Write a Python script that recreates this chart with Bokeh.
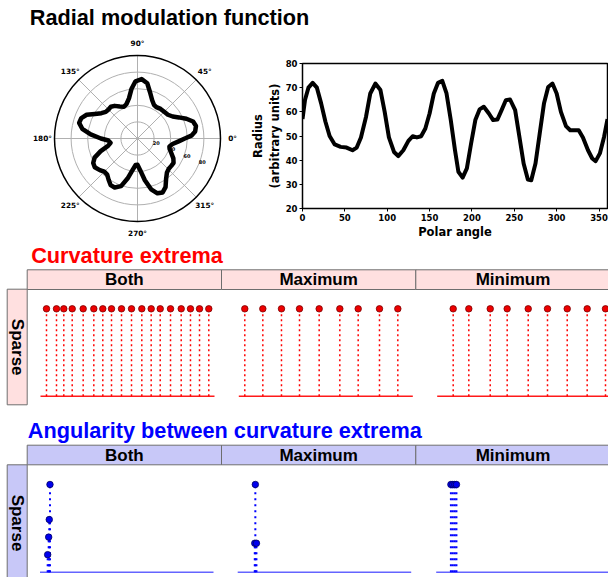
import numpy as np
from bokeh.plotting import figure
from bokeh.layouts import column, row
from bokeh.models import Range1d, FixedTicker
from bokeh.core.properties import value
from bokeh.embed import file_html
from bokeh.resources import INLINE

# ---------------- data ----------------
theta_deg = [0, 3, 7, 12, 17, 22, 27, 32, 38, 45, 52, 59, 64, 69, 75, 80, 86, 92, 97, 102,
             108, 113, 119, 125, 130, 135, 140, 145, 150, 155, 160, 165, 170, 175, 180, 184,
             189, 194, 199, 204, 209, 214, 220, 225, 230, 235, 240, 245, 251, 256, 261, 266,
             270, 275, 280, 285, 290, 295, 300, 305, 311, 316, 321, 326, 331, 337, 342, 346,
             351, 356, 360]
radius = [57.0, 65.0, 70.0, 72.0, 70.0, 63.5, 56.0, 50.0, 46.5, 45.5, 45.2, 44.1, 45.2, 49.4,
          58.0, 67.6, 71.7, 69.0, 60.0, 49.4, 43.4, 41.7, 44.1, 48.0, 49.9, 49.4, 49.9, 53.1,
          59.3, 67.6, 72.0, 72.8, 67.6, 56.6, 44.1, 35.2, 32.8, 36.6, 46.9, 56.6, 61.0, 62.1,
          59.3, 56.6, 56.8, 60.7, 64.8, 65.1, 60.7, 49.7, 38.6, 32.0, 31.7, 38.6, 51.0, 63.4,
          70.3, 71.7, 67.6, 60.0, 54.1, 52.4, 52.4, 52.4, 49.4, 44.1, 40.7, 39.6, 42.8, 49.7,
          57.0]
x_ticks = [0, 50, 100, 150, 200, 250, 300, 350]
y_ticks = [20, 30, 40, 50, 60, 70, 80]
polar_rings = [20, 40, 60, 80]
polar_rmax = 100
polar_angles = [0, 45, 90, 135, 180, 225, 270, 315]
polar_angle_labels = ["0°", "45°", "90°", "135°", "180°", "225°", "270°", "315°"]

facet_cols = ["Both", "Maximum", "Minimum"]
facet_row = "Sparse"

curv_both = [12.4, 33.1, 48.2, 65.6, 88.3, 110.3, 128.9, 146.9, 167.6, 188.3, 209.6, 229.0,
             247.7, 269.0, 291.1, 310.3, 329.0, 348.2]
curv_both_h = [1] * 18
curv_max = [12.4, 49.7, 88.3, 125.6, 166.3, 209.0, 247.0, 291.1, 329.0]
curv_max_h = [1] * 9
curv_min = [33.1, 65.4, 109.7, 144.8, 188.3, 228.2, 269.0, 310.3, 348.2]
curv_min_h = [1] * 9

ang_both = [20.7, 19.2, 18.0, 15.9]
ang_both_h = [1.0, 0.6, 0.4, 0.2]
ang_max = [36.6, 35.4, 38.9]
ang_max_h = [1.0, 0.33, 0.33]
ang_min = [30.5, 34.5, 38.5, 42.0]
ang_min_h = [1.0, 1.0, 1.0, 1.0]

# ---------------- helpers ----------------
BOLD_SANS = value("Liberation Sans")
MPL_FONT = value("DejaVu Sans")
PAGE_W = 608


def bare(p):
    p.toolbar_location = None
    p.outline_line_color = None
    p.min_border = 0
    p.min_border_left = 0
    p.min_border_right = 0
    p.min_border_top = 0
    p.min_border_bottom = 0
    p.background_fill_color = "white"
    p.border_fill_color = "white"
    p.frame_align = False
    p.xgrid.visible = False
    p.ygrid.visible = False
    return p


def x_panel_range(L, R, d0=0.0, d1=360.0):
    k = (R - L) / (d1 - d0)
    start = d0 - L / k
    return Range1d(start, start + PAGE_W / k)


def y_panel_range(T, H, base, top):
    k = base - top
    start = -(T + H - base) / k
    return Range1d(start, start + H / k)


# ---------------- title ----------------
H0 = 36
tfig = bare(figure(width=PAGE_W, height=H0, x_range=Range1d(0, PAGE_W), y_range=Range1d(0, H0),
                   x_axis_type=None, y_axis_type=None, output_backend="svg", toolbar_location=None))
tfig.text(x=[29.3], y=[H0 - 16.7], text=["Radial modulation function"],
          text_font=BOLD_SANS, text_font_style="bold", text_font_size="21.7px",
          text_baseline="middle", text_align="left", text_color="black")

# ---------------- polar ----------------
T1, H1 = 36, 206
PW = 247
PX = 0.83
cx, cy = 137, 138 - T1
pfig = bare(figure(width=PW, height=H1,
                   x_range=Range1d(-cx / PX, (PW - cx) / PX),
                   y_range=Range1d(-(H1 - cy) / PX, cy / PX),
                   x_axis_type=None, y_axis_type=None, output_backend="svg", toolbar_location=None))
pfig.circle(x=[0] * len(polar_rings), y=[0] * len(polar_rings), radius=polar_rings,
            fill_color=None, line_color="#b0b0b0", line_width=1)
a_rad = np.deg2rad(polar_angles)
pfig.segment(x0=[0] * 8, y0=[0] * 8, x1=polar_rmax * np.cos(a_rad), y1=polar_rmax * np.sin(a_rad),
             line_color="#b0b0b0", line_width=1)
th = np.deg2rad(theta_deg)
rr = np.array(radius)
pfig.line(rr * np.cos(th), rr * np.sin(th), line_color="black", line_width=4.5, line_join="round")
pfig.circle(x=[0], y=[0], radius=[polar_rmax], fill_color=None, line_color="black", line_width=1.5)
lab_r = 114.5
pfig.text(x=lab_r * np.cos(a_rad), y=lab_r * np.sin(a_rad), text=polar_angle_labels,
          text_font=MPL_FONT, text_font_style="bold", text_font_size="7.3px",
          text_align="center", text_baseline="middle", text_color="black")
rl = np.deg2rad(-22.5)
pfig.text(x=np.array(polar_rings) * np.cos(rl), y=np.array(polar_rings) * np.sin(rl),
          text=[str(v) for v in polar_rings], text_font=MPL_FONT, text_font_style="bold",
          text_font_size="5px", text_align="left", text_baseline="bottom", text_color="black")

# ---------------- cartesian ----------------
cfig = figure(width=PAGE_W - PW, height=H1, x_range=Range1d(0, 360), y_range=Range1d(20, 80),
              output_backend="svg", toolbar_location=None)
cfig.frame_align = False
cfig.min_border_left = 301 - PW
cfig.min_border_right = 1
cfig.min_border_top = 63 - T1
cfig.min_border_bottom = T1 + H1 - 208
cfig.xgrid.visible = False
cfig.ygrid.visible = False
cfig.outline_line_color = "black"
cfig.outline_line_width = 1.5
cfig.outline_line_alpha = 1.0
cfig.line(theta_deg, radius, line_color="black", line_width=4, line_join="round")
cfig.xaxis.ticker = FixedTicker(ticks=x_ticks)
cfig.yaxis.ticker = FixedTicker(ticks=y_ticks)
cfig.xaxis.axis_label = "Polar angle"
cfig.yaxis.axis_label = "Radius\n(arbitrary units)"
for ax in (cfig.xaxis, cfig.yaxis):
    ax.axis_line_color = None
    ax.major_tick_in = 0
    ax.major_tick_out = 3
    ax.major_tick_line_color = "black"
    ax.minor_tick_line_color = None
    ax.major_label_text_font = "DejaVu Sans"
    ax.major_label_text_font_style = "bold"
    ax.major_label_text_font_size = "8.5px"
    ax.major_label_text_color = "black"
    ax.major_label_standoff = 2
    ax.axis_label_text_font = "DejaVu Sans"
    ax.axis_label_text_font_style = "bold"
    ax.axis_label_text_font_size = "11.5px"
    ax.axis_label_text_color = "black"
    ax.axis_label_standoff = 1


# ---------------- facet sections ----------------
def facet_section(T, H, title, title_color, title_x, title_mid, strip_fill,
                  head_top, head_bot, side_top, side_bot, side_mid, panel_L, panel_W,
                  base_y, top_y, data, pt_fill, pt_line, stem_color, stem_w, stem_dash,
                  base_color):
    def yy(v):
        return T + H - v
    f = bare(figure(width=PAGE_W, height=H, x_range=Range1d(0, PAGE_W), y_range=Range1d(0, H),
                    x_axis_type=None, y_axis_type=None, output_backend="svg",
                    toolbar_location=None))
    f.text(x=[title_x], y=[yy(title_mid)], text=[title], text_font=BOLD_SANS,
           text_font_style="bold", text_font_size="21.7px", text_baseline="middle",
           text_align="left", text_color=title_color)
    edges = [26.7, 221.0, 415.3, 609.6]
    f.quad(left=edges[:3], right=edges[1:], top=[yy(head_top)] * 3, bottom=[yy(head_bot)] * 3,
           fill_color=strip_fill, line_color="#6e6e6e", line_width=1)
    f.text(x=[(edges[i] + edges[i + 1]) / 2 for i in range(3)], y=[yy((head_top + head_bot) / 2)] * 3,
           text=facet_cols, text_font=BOLD_SANS, text_font_style="bold", text_font_size="17px",
           text_align="center", text_baseline="middle", text_color="black")
    f.quad(left=[6.7], right=[26.7], top=[yy(side_top)], bottom=[yy(side_bot)],
           fill_color=strip_fill, line_color="#6e6e6e", line_width=1)
    f.text(x=[16.7], y=[yy(side_mid)], text=[facet_row], angle=[-np.pi / 2],
           text_font=BOLD_SANS, text_font_style="bold", text_font_size="17px",
           text_align="center", text_baseline="middle", text_color="black")
    f.extra_y_ranges = {"val": y_panel_range(T, H, base_y, top_y)}
    xr = {}
    for i, name in enumerate(facet_cols):
        xr[name] = x_panel_range(panel_L[i], panel_L[i] + panel_W)
    f.extra_x_ranges = xr
    for name in facet_cols:
        xs, hs = data[name]
        f.segment(x0=[0], x1=[360], y0=[0], y1=[0], line_color=base_color, line_width=1.5,
                  x_range_name=name, y_range_name="val")
        f.segment(x0=xs, x1=xs, y0=[0] * len(xs), y1=hs, line_color=stem_color,
                  line_width=stem_w, line_dash=stem_dash, x_range_name=name, y_range_name="val")
        f.scatter(x=xs, y=hs, size=6.5, fill_color=pt_fill, line_color=pt_line, line_width=0.8,
                  x_range_name=name, y_range_name="val")
    return f


rfig = facet_section(242, 168, "Curvature extrema", "#ff0000", 30.7, 255.0, "#ffe0e0",
                     269.3, 289.0, 288.7, 404.3, 346.7, [40.0, 238.3, 436.7], 174.0,
                     395.7, 308.3,
                     {"Both": (curv_both, curv_both_h), "Maximum": (curv_max, curv_max_h),
                      "Minimum": (curv_min, curv_min_h)},
                     "#ee0000", "#7a0000", "#ff0000", 1.5, "2 3", "#ff1a1a")

bfig = facet_section(410, 167, "Angularity between curvature extrema", "#0000ff", 27.3, 429.5,
                     "#c8c8f8", 444.7, 464.3, 464.3, 590.0, 522.5, [39.5, 237.2, 435.7], 173.5,
                     571.7, 484.0,
                     {"Both": (ang_both, ang_both_h), "Maximum": (ang_max, ang_max_h),
                      "Minimum": (ang_min, ang_min_h)},
                     "#0000ee", "#000060", "#0000ff", 2, "2 4", "#6464ff")

layout = column(tfig, row(pfig, cfig), rfig, bfig)
open("out.html", "w").write(file_html(layout, INLINE))
